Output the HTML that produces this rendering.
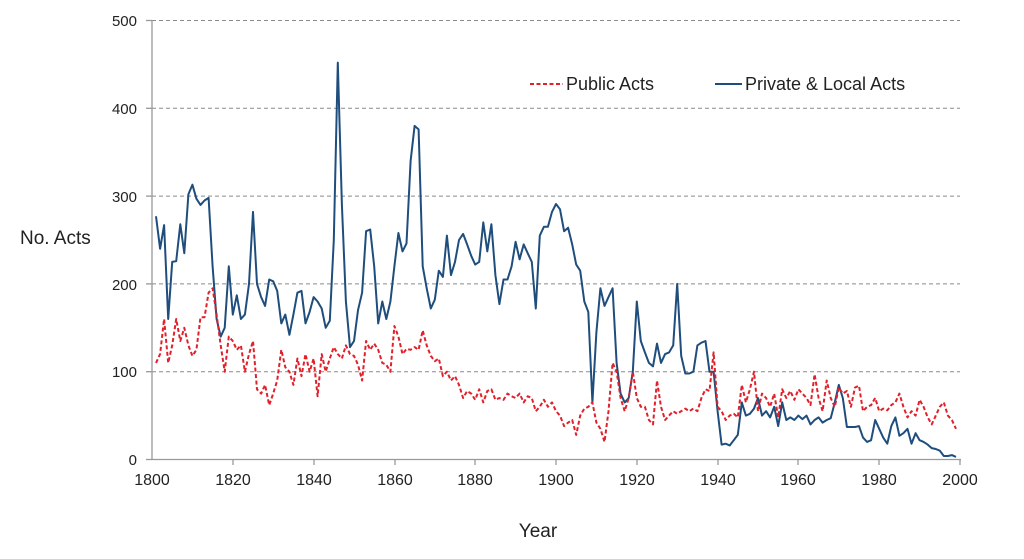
<!DOCTYPE html>
<html><head><meta charset="utf-8"><style>
body{margin:0;background:#fff;}
svg{display:block;font-family:"Liberation Sans",sans-serif;}
</style></head><body>
<svg id="s" width="1024" height="559" xmlns="http://www.w3.org/2000/svg">
<g stroke="#8a8a8a" stroke-width="1" stroke-dasharray="4,3">
<line x1="152" y1="20.5" x2="960" y2="20.5"/>
<line x1="152" y1="108.3" x2="960" y2="108.3"/>
<line x1="152" y1="196.1" x2="960" y2="196.1"/>
<line x1="152" y1="283.9" x2="960" y2="283.9"/>
<line x1="152" y1="371.7" x2="960" y2="371.7"/>
</g>
<g stroke="#999" stroke-width="1.3">
<line x1="152" y1="20" x2="152" y2="460"/>
<line x1="152" y1="459.5" x2="961" y2="459.5"/>
<line x1="146" y1="20.5" x2="152" y2="20.5"/>
<line x1="146" y1="108.3" x2="152" y2="108.3"/>
<line x1="146" y1="196.1" x2="152" y2="196.1"/>
<line x1="146" y1="283.9" x2="152" y2="283.9"/>
<line x1="146" y1="371.7" x2="152" y2="371.7"/>
<line x1="146" y1="459.5" x2="152" y2="459.5"/>
<line x1="233" y1="459" x2="233" y2="465"/>
<line x1="314" y1="459" x2="314" y2="465"/>
<line x1="395" y1="459" x2="395" y2="465"/>
<line x1="475" y1="459" x2="475" y2="465"/>
<line x1="556" y1="459" x2="556" y2="465"/>
<line x1="637" y1="459" x2="637" y2="465"/>
<line x1="718" y1="459" x2="718" y2="465"/>
<line x1="798" y1="459" x2="798" y2="465"/>
<line x1="879" y1="459" x2="879" y2="465"/>
<line x1="960" y1="459" x2="960" y2="465"/>
</g>
<g font-size="15" fill="#222" text-anchor="end">
<text x="137" y="26">500</text><text x="137" y="114">400</text><text x="137" y="202">300</text>
<text x="137" y="290">200</text><text x="137" y="377">100</text><text x="137" y="465">0</text>
</g>
<g font-size="16" fill="#222" text-anchor="middle">
<text x="152" y="485">1800</text><text x="233" y="485">1820</text><text x="314" y="485">1840</text>
<text x="395" y="485">1860</text><text x="475" y="485">1880</text><text x="556" y="485">1900</text>
<text x="637" y="485">1920</text><text x="718" y="485">1940</text><text x="798" y="485">1960</text>
<text x="879" y="485">1980</text><text x="960" y="485">2000</text>
</g>
<text x="20" y="244" font-size="19" fill="#222">No. Acts</text>
<text x="538" y="537" font-size="19" fill="#222" text-anchor="middle">Year</text>
<line x1="530" y1="84" x2="563" y2="84" stroke="#e0202a" stroke-width="2" stroke-dasharray="4,2.5"/>
<text x="566" y="90" font-size="18" fill="#222">Public Acts</text>
<line x1="715" y1="84" x2="742" y2="84" stroke="#1f4e7d" stroke-width="2"/>
<text x="745" y="90" font-size="18" fill="#222">Private &amp; Local Acts</text>
<polyline id="blue" fill="none" stroke="#1f4e7d" stroke-width="2" stroke-linejoin="round"/>
<polyline id="red" fill="none" stroke="#e0202a" stroke-width="2" stroke-dasharray="4,2.5" stroke-linejoin="round"/>
</svg>
<script>
var B=[277,240,267,160,225,226,268,235,302,313,297,290,295,298,220,160,140,150,220,165,187,160,165,200,282,200,185,175,205,203,192,155,165,142,165,190,192,155,168,185,180,172,150,158,250,452,290,180,128,135,170,190,260,262,220,155,180,160,180,220,258,237,246,340,380,376,220,195,172,182,215,208,255,210,225,250,257,245,232,222,225,270,237,268,210,177,205,205,220,248,228,245,235,225,172,255,265,265,282,291,285,260,264,245,222,215,180,168,65,145,195,175,185,195,110,75,65,70,100,180,135,122,110,106,132,110,120,122,130,200,118,98,98,100,130,133,135,100,100,55,17,18,16,22,28,65,50,52,58,70,50,55,48,60,38,65,45,48,45,50,46,50,40,45,48,42,45,47,65,85,70,37,37,37,38,25,20,22,45,35,25,18,38,48,27,30,35,18,30,22,20,17,13,12,10,4,4,5,3];
var R=[110,120,160,110,130,160,135,150,130,118,125,162,162,190,195,165,130,100,140,135,125,130,100,120,135,80,75,85,62,75,90,125,105,100,85,115,95,120,100,115,72,120,100,115,128,120,115,130,120,118,108,90,135,125,132,125,110,108,100,152,140,120,126,125,128,125,147,130,118,112,115,95,100,90,95,85,70,78,75,68,80,65,78,80,68,70,68,75,72,70,75,65,72,70,55,60,68,60,65,55,50,38,42,45,28,50,58,60,65,42,35,20,55,110,100,70,55,70,100,70,60,60,45,40,90,60,45,50,55,52,55,58,55,58,55,70,80,78,122,60,55,45,50,52,48,85,65,80,100,55,75,70,60,75,48,80,70,78,68,80,75,70,62,97,70,55,90,70,60,82,75,78,60,82,84,55,60,62,70,55,58,56,62,65,75,60,48,55,50,68,60,48,40,50,60,65,50,45,35];
function pts(a){return a.map(function(v,i){return (152+(i+1)*4.04).toFixed(1)+','+(459.5-v*0.878).toFixed(1)}).join(' ');}
document.getElementById('blue').setAttribute('points',pts(B));
document.getElementById('red').setAttribute('points',pts(R));
</script>
</body></html>
